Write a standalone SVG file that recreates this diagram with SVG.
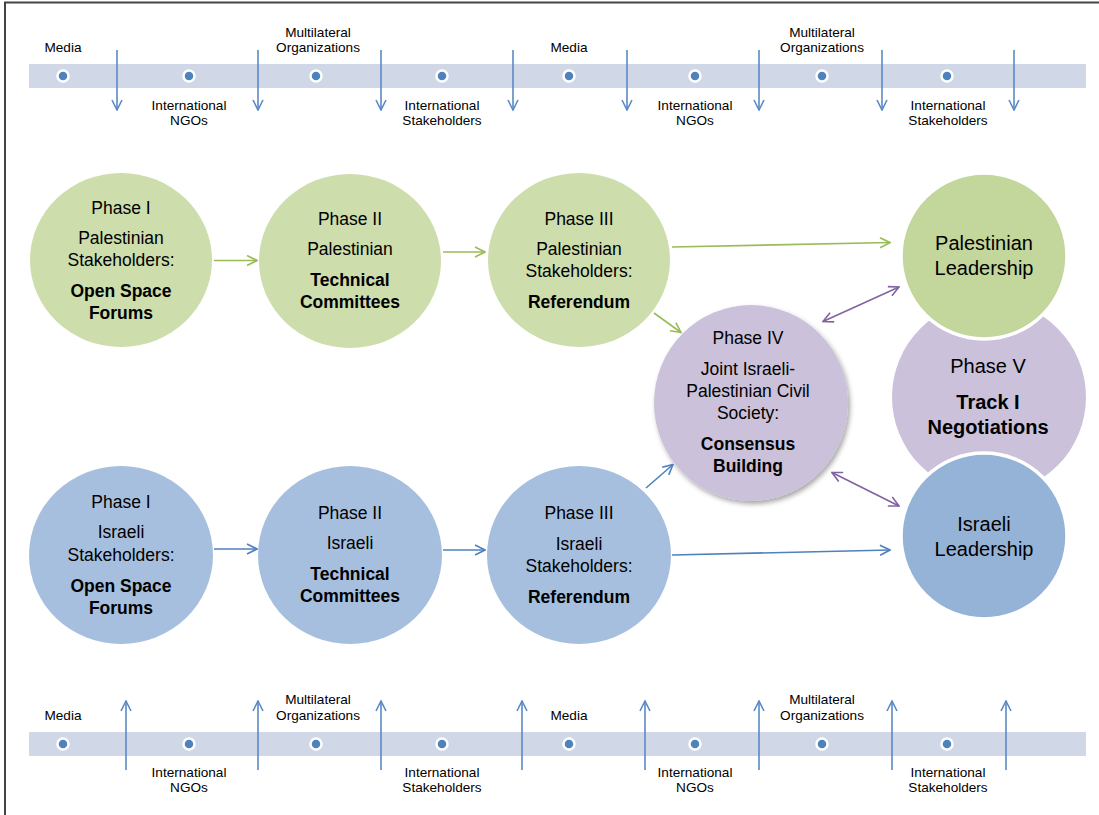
<svg xmlns="http://www.w3.org/2000/svg" width="1099" height="815" viewBox="0 0 1099 815">
<defs>
<style>
.t{font-family:"Liberation Sans",Arial,sans-serif;font-size:17.5px;fill:#000;text-anchor:middle}
.b{font-weight:bold}
.L{font-size:20px}
.s{font-family:"Liberation Sans",Arial,sans-serif;font-size:13.6px;fill:#000;text-anchor:middle}
.g{fill:#cdddac}
.bl{fill:#a7bfde}
.p{fill:#ccc1da}
.band{fill:#d0d8e8}
.dot{fill:#4f81bd;stroke:#fff;stroke-width:2.5}
.va{stroke:#5a8ac6;stroke-width:1.6;fill:none}
.cg{stroke:#9bbb59;stroke-width:1.6;fill:none}
.cb{stroke:#4f81bd;stroke-width:1.6;fill:none}
.cp{stroke:#8064a2;stroke-width:1.6;fill:none}
</style>
<marker id="mv" viewBox="0 0 12 12" refX="11" refY="6" markerWidth="12" markerHeight="12" markerUnits="userSpaceOnUse" orient="auto"><path d="M1,1 L11,6 L1,11" fill="none" stroke="#5a8ac6" stroke-width="1.6"/></marker>
<marker id="mg" viewBox="0 0 12 12" refX="11" refY="6" markerWidth="12" markerHeight="12" markerUnits="userSpaceOnUse" orient="auto"><path d="M1,1 L11,6 L1,11" fill="none" stroke="#9bbb59" stroke-width="1.6"/></marker>
<marker id="mb" viewBox="0 0 12 12" refX="11" refY="6" markerWidth="12" markerHeight="12" markerUnits="userSpaceOnUse" orient="auto"><path d="M1,1 L11,6 L1,11" fill="none" stroke="#4f81bd" stroke-width="1.6"/></marker>
<marker id="mp" viewBox="0 0 12 12" refX="11" refY="6" markerWidth="12" markerHeight="12" markerUnits="userSpaceOnUse" orient="auto-start-reverse"><path d="M1,1 L11,6 L1,11" fill="none" stroke="#8064a2" stroke-width="1.6"/></marker>
<filter id="sh" x="-20%" y="-20%" width="140%" height="140%"><feDropShadow dx="2" dy="3" stdDeviation="2.5" flood-color="#000" flood-opacity="0.35"/></filter>
</defs>
<rect width="1099" height="815" fill="#fff"/>
<path d="M5,815 L5,2.5 L1099,2.5" fill="none" stroke="#444" stroke-width="2"/>

<g id="band-top">
<rect class="band" x="29" y="64" width="1057" height="24"/>
<circle class="dot" cx="63" cy="76" r="5.5"/><circle class="dot" cx="189" cy="76" r="5.5"/><circle class="dot" cx="316" cy="76" r="5.5"/><circle class="dot" cx="442" cy="76" r="5.5"/>
<circle class="dot" cx="569" cy="76" r="5.5"/><circle class="dot" cx="695" cy="76" r="5.5"/><circle class="dot" cx="822" cy="76" r="5.5"/><circle class="dot" cx="947" cy="76" r="5.5"/>
<text class="s" x="63" y="52">Media</text>
<text class="s" x="189" y="110">International</text><text class="s" x="189" y="125">NGOs</text>
<text class="s" x="318" y="37">Multilateral</text><text class="s" x="318" y="52">Organizations</text>
<text class="s" x="442" y="110">International</text><text class="s" x="442" y="125">Stakeholders</text>
<text class="s" x="569" y="52">Media</text>
<text class="s" x="695" y="110">International</text><text class="s" x="695" y="125">NGOs</text>
<text class="s" x="822" y="37">Multilateral</text><text class="s" x="822" y="52">Organizations</text>
<text class="s" x="948" y="110">International</text><text class="s" x="948" y="125">Stakeholders</text>
</g>

<g id="band-bottom">
<rect class="band" x="29" y="732" width="1057" height="24"/>
<circle class="dot" cx="63" cy="744" r="5.5"/><circle class="dot" cx="189" cy="744" r="5.5"/><circle class="dot" cx="316" cy="744" r="5.5"/><circle class="dot" cx="442" cy="744" r="5.5"/>
<circle class="dot" cx="569" cy="744" r="5.5"/><circle class="dot" cx="695" cy="744" r="5.5"/><circle class="dot" cx="822" cy="744" r="5.5"/><circle class="dot" cx="947" cy="744" r="5.5"/>
<text class="s" x="63" y="720">Media</text>
<text class="s" x="189" y="777">International</text><text class="s" x="189" y="792">NGOs</text>
<text class="s" x="318" y="704">Multilateral</text><text class="s" x="318" y="720">Organizations</text>
<text class="s" x="442" y="777">International</text><text class="s" x="442" y="792">Stakeholders</text>
<text class="s" x="569" y="720">Media</text>
<text class="s" x="695" y="777">International</text><text class="s" x="695" y="792">NGOs</text>
<text class="s" x="822" y="704">Multilateral</text><text class="s" x="822" y="720">Organizations</text>
<text class="s" x="948" y="777">International</text><text class="s" x="948" y="792">Stakeholders</text>
</g>

<g id="band-arrows">
<line class="va" x1="117" y1="50" x2="117" y2="110" marker-end="url(#mv)"/>
<line class="va" x1="258" y1="50" x2="258" y2="110" marker-end="url(#mv)"/>
<line class="va" x1="381" y1="50" x2="381" y2="110" marker-end="url(#mv)"/>
<line class="va" x1="513" y1="50" x2="513" y2="110" marker-end="url(#mv)"/>
<line class="va" x1="627" y1="50" x2="627" y2="110" marker-end="url(#mv)"/>
<line class="va" x1="759" y1="50" x2="759" y2="110" marker-end="url(#mv)"/>
<line class="va" x1="882" y1="50" x2="882" y2="110" marker-end="url(#mv)"/>
<line class="va" x1="1014" y1="50" x2="1014" y2="110" marker-end="url(#mv)"/>
<line class="va" x1="126" y1="770" x2="126" y2="701" marker-end="url(#mv)"/>
<line class="va" x1="258" y1="770" x2="258" y2="701" marker-end="url(#mv)"/>
<line class="va" x1="381" y1="770" x2="381" y2="701" marker-end="url(#mv)"/>
<line class="va" x1="522" y1="770" x2="522" y2="701" marker-end="url(#mv)"/>
<line class="va" x1="645" y1="770" x2="645" y2="701" marker-end="url(#mv)"/>
<line class="va" x1="759" y1="770" x2="759" y2="701" marker-end="url(#mv)"/>
<line class="va" x1="892" y1="770" x2="892" y2="701" marker-end="url(#mv)"/>
<line class="va" x1="1006" y1="770" x2="1006" y2="701" marker-end="url(#mv)"/>
</g>

<g id="pal-phase1">
<ellipse class="g" cx="121" cy="260" rx="91" ry="87"/>
<text class="t" x="121" y="214">Phase I</text>
<text class="t" x="121" y="244">Palestinian</text>
<text class="t" x="121" y="266">Stakeholders:</text>
<text class="t b" x="121" y="297">Open Space</text>
<text class="t b" x="121" y="319">Forums</text>
</g>
<g id="pal-phase2">
<ellipse class="g" cx="350" cy="261" rx="91" ry="87"/>
<text class="t" x="350" y="225">Phase II</text>
<text class="t" x="350" y="255">Palestinian</text>
<text class="t b" x="350" y="286">Technical</text>
<text class="t b" x="350" y="308">Committees</text>
</g>
<g id="pal-phase3">
<ellipse class="g" cx="579" cy="260" rx="91" ry="87"/>
<text class="t" x="579" y="225">Phase III</text>
<text class="t" x="579" y="255">Palestinian</text>
<text class="t" x="579" y="277">Stakeholders:</text>
<text class="t b" x="579" y="308">Referendum</text>
</g>
<g id="isr-phase1">
<ellipse class="bl" cx="121" cy="555" rx="92" ry="89"/>
<text class="t" x="121" y="508">Phase I</text>
<text class="t" x="121" y="538">Israeli</text>
<text class="t" x="121" y="561">Stakeholders:</text>
<text class="t b" x="121" y="592">Open Space</text>
<text class="t b" x="121" y="614">Forums</text>
</g>
<g id="isr-phase2">
<ellipse class="bl" cx="350" cy="555" rx="92" ry="89"/>
<text class="t" x="350" y="519">Phase II</text>
<text class="t" x="350" y="549">Israeli</text>
<text class="t b" x="350" y="580">Technical</text>
<text class="t b" x="350" y="602">Committees</text>
</g>
<g id="isr-phase3">
<ellipse class="bl" cx="579" cy="555" rx="92" ry="89"/>
<text class="t" x="579" y="519">Phase III</text>
<text class="t" x="579" y="550">Israeli</text>
<text class="t" x="579" y="572">Stakeholders:</text>
<text class="t b" x="579" y="603">Referendum</text>
</g>
<g id="phase4">
<ellipse class="p" cx="751" cy="403" rx="97" ry="98" filter="url(#sh)"/>
<text class="t" x="748" y="344">Phase IV</text>
<text class="t" x="748" y="375">Joint Israeli-</text>
<text class="t" x="748" y="397">Palestinian Civil</text>
<text class="t" x="748" y="419">Society:</text>
<text class="t b" x="748" y="450">Consensus</text>
<text class="t b" x="748" y="472">Building</text>
</g>
<g id="phase5">
<circle class="p" cx="989" cy="397" r="97"/>
<text class="t L" x="988" y="373">Phase V</text>
<text class="t L b" x="988" y="409">Track I</text>
<text class="t L b" x="988" y="434">Negotiations</text>
</g>
<g id="pal-leadership">
<circle cx="984" cy="256" r="83" fill="#c3d69b" stroke="#fff" stroke-width="3.5"/>
<text class="t L" x="984" y="250">Palestinian</text>
<text class="t L" x="984" y="275">Leadership</text>
</g>
<g id="isr-leadership">
<circle cx="984" cy="536" r="83" fill="#95b3d7" stroke="#fff" stroke-width="3.5"/>
<text class="t L" x="984" y="531">Israeli</text>
<text class="t L" x="984" y="556">Leadership</text>
</g>

<g id="connectors">
<line class="cg" x1="214" y1="260.5" x2="257" y2="260.5" marker-end="url(#mg)"/>
<line class="cg" x1="443" y1="252" x2="485" y2="252" marker-end="url(#mg)"/>
<line class="cg" x1="672" y1="247" x2="890" y2="242.5" marker-end="url(#mg)"/>
<line class="cg" x1="654" y1="313" x2="681" y2="332.5" marker-end="url(#mg)"/>
<line class="cb" x1="214" y1="549" x2="257" y2="549" marker-end="url(#mb)"/>
<line class="cb" x1="443" y1="550" x2="485" y2="550" marker-end="url(#mb)"/>
<line class="cb" x1="672" y1="555" x2="890" y2="550" marker-end="url(#mb)"/>
<line class="cb" x1="646" y1="488" x2="673" y2="464.5" marker-end="url(#mb)"/>
<line class="cp" x1="823" y1="321.5" x2="899" y2="287" marker-start="url(#mp)" marker-end="url(#mp)"/>
<line class="cp" x1="832" y1="472.5" x2="899" y2="506" marker-start="url(#mp)" marker-end="url(#mp)"/>
</g>
</svg>
